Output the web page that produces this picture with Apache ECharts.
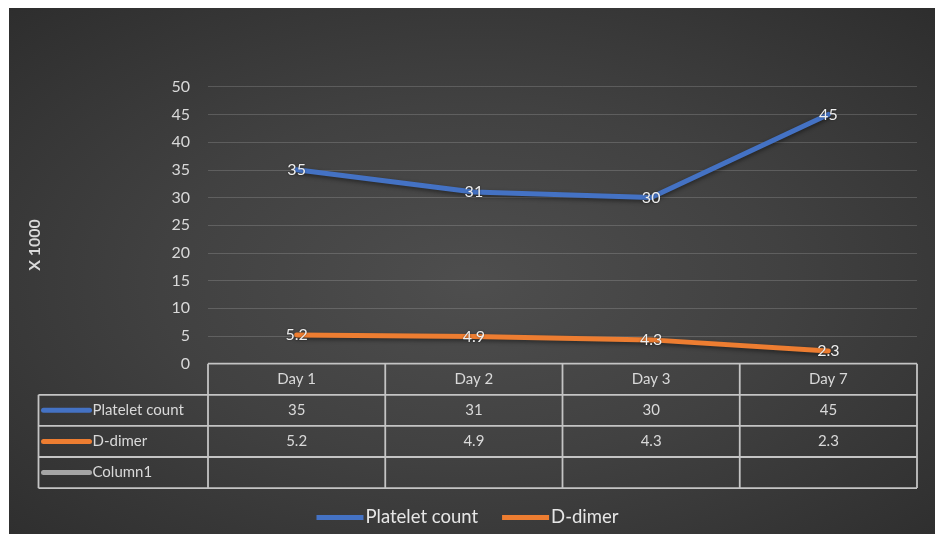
<!DOCTYPE html>
<html>
<head>
<meta charset="utf-8">
<script src="https://cdn.jsdelivr.net/npm/echarts@6/dist/echarts.min.js"></script>
<style>
html,body{margin:0;padding:0;background:#ffffff;width:935px;height:534px;overflow:hidden;}
#bg{position:absolute;left:9px;top:8px;width:926px;height:526px;
background:radial-gradient(ellipse 75% 75% at 50% 52%, #4e4e4e 0%, #414141 45%, #2c2c2c 100%);}
#chart{position:absolute;left:0;top:0;width:935px;height:534px;}
</style>
</head>
<body>
<div id="bg"></div>
<div id="chart"></div>
<script>
var categories = ['Day 1', 'Day 2', 'Day 3', 'Day 7'];
var plateletCount = [35, 31, 30, 45];
var dDimer = [5.2, 4.9, 4.3, 2.3];
var column1 = [null, null, null, null];
var yTicks = [0, 5, 10, 15, 20, 25, 30, 35, 40, 45, 50];
var seriesNames = ['Platelet count', 'D-dimer', 'Column1'];

var COLORS = ['#4472c4', '#ed7d31', '#a5a5a5'];
var FONT = 'Lato, "Open Sans", sans-serif';
var TXT = '#d9d9d9';

var chart = echarts.init(document.getElementById('chart'), null, {renderer: 'canvas'});

function lineSeries(name, data, color) {
  return {
    name: name, type: 'line', data: data,
    symbol: 'circle', symbolSize: 0, showSymbol: true,
    lineStyle: {color: color, width: 5, cap: 'round', join: 'round',
      shadowColor: 'rgba(0,0,0,0.45)', shadowBlur: 4, shadowOffsetY: 2},
    itemStyle: {color: color},
    label: {show: true, position: 'inside', color: '#eeeeee', fontSize: 16, fontFamily: FONT,
      textShadowColor: 'rgba(0,0,0,0.5)', textShadowBlur: 2,
      formatter: function (p) { return p.value; }},
    emphasis: {disabled: true},
    z: 5
  };
}

var option = {
  backgroundColor: 'transparent',
  animation: false,
  grid: {left: 208, right: 18, top: 86.7, bottom: 170.3, containLabel: false},
  xAxis: {
    type: 'category', data: categories, boundaryGap: true,
    axisLine: {show: false}, axisTick: {show: false}, axisLabel: {show: false},
    splitLine: {show: false}
  },
  yAxis: {
    type: 'value', min: yTicks[0], max: yTicks[yTicks.length - 1], interval: yTicks[1] - yTicks[0],
    axisLine: {show: false}, axisTick: {show: false},
    axisLabel: {color: TXT, fontSize: 16, fontFamily: FONT, margin: 18},
    splitLine: {lineStyle: {color: 'rgba(255,255,255,0.16)', width: 1}}
  },
  legend: {
    data: [seriesNames[0], seriesNames[1]],
    left: 'center', top: 503,
    icon: 'rect', itemWidth: 47, itemHeight: 5, itemGap: 24,
    textStyle: {color: '#e6e6e6', fontSize: 18.5, fontFamily: FONT, padding: [0, 0, 0, -3]}
  },
  series: [
    lineSeries(seriesNames[0], plateletCount, COLORS[0]),
    lineSeries(seriesNames[1], dDimer, COLORS[1])
  ]
};
chart.setOption(option);

// Build data table below the plot from the arrays
(function () {
  var gridLeft = 208, gridRight = 917;
  var y0 = chart.convertToPixel({yAxisIndex: 0}, 0);
  var rowH = 31.1;
  var tableLeft = 38.5;
  var centers = categories.map(function (c, i) { return chart.convertToPixel({xAxisIndex: 0}, i); });
  var bounds = [gridLeft];
  for (var i = 0; i < centers.length - 1; i++) bounds.push((centers[i] + centers[i + 1]) / 2);
  bounds.push(gridRight);

  var lc = '#c4c4c4', lw = 1.8;
  var els = [];
  function hline(x1, x2, y) {
    els.push({type: 'line', shape: {x1: x1, y1: y, x2: x2, y2: y}, style: {stroke: lc, lineWidth: lw}, silent: true});
  }
  function vline(x, y1, y2) {
    els.push({type: 'line', shape: {x1: x, y1: y1, x2: x, y2: y2}, style: {stroke: lc, lineWidth: lw}, silent: true});
  }
  function text(x, y, s, align) {
    els.push({type: 'text', x: x, y: y, silent: true,
      style: {text: s, fill: TXT, font: '15px ' + FONT, textAlign: align || 'center', textVerticalAlign: 'middle'}});
  }
  var rows = [plateletCount, dDimer, column1];
  var yTop = y0, yEnd = y0 + rowH * (rows.length + 1);
  hline(gridLeft, gridRight, yTop);
  for (var r = 1; r <= rows.length + 1; r++) hline(tableLeft, gridRight, yTop + rowH * r);
  vline(tableLeft, yTop + rowH, yEnd);
  bounds.forEach(function (b) { vline(b, yTop, yEnd); });
  categories.forEach(function (c, i) { text(centers[i], yTop + rowH / 2, c); });
  rows.forEach(function (arr, r) {
    var yc = yTop + rowH * (r + 1) + rowH / 2;
    els.push({type: 'line', shape: {x1: tableLeft + 5, y1: yc, x2: tableLeft + 51, y2: yc},
      style: {stroke: COLORS[r], lineWidth: 5, lineCap: 'round'}, silent: true});
    text(tableLeft + 54, yc, seriesNames[r], 'left');
    arr.forEach(function (v, i) { if (v !== null) text(centers[i], yc, String(v)); });
  });
  els.push({type: 'text', x: 35, y: 245, rotation: Math.PI / 2, silent: true,
    style: {text: 'X 1000', fill: TXT, font: 'bold 16px ' + FONT, textAlign: 'center', textVerticalAlign: 'middle'}});
  chart.setOption({graphic: {elements: els}});
})();
</script>
</body>
</html>
